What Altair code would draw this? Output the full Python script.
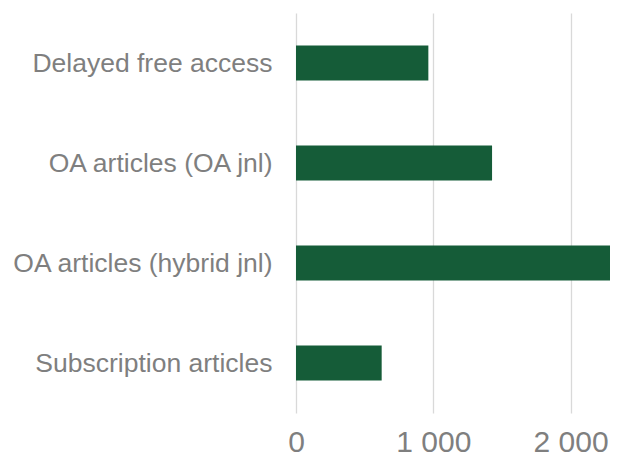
import altair as alt
import pandas as pd

categories = ["Delayed free access", "OA articles (OA jnl)", "OA articles (hybrid jnl)", "Subscription articles"]
values = [964, 1428, 2345, 624]
x_ticks = [0, 1000, 2000]

df = pd.DataFrame({"category": categories, "value": values})

chart = alt.Chart(df).mark_bar(color="#155C38", clip=True).encode(
    x=alt.X("value:Q",
            scale=alt.Scale(domain=[0, 2287], nice=False, zero=True),
            axis=alt.Axis(values=x_ticks, title=None, grid=True, gridColor="#D9D9D9", gridWidth=1.3,
                          domain=False, ticks=False, labelFontSize=30, labelColor="#7F7F7F",
                          labelFont="Liberation Sans", labelPadding=14, labelFlush=False,
                          labelExpr="replace(format(datum.value, ','), ',', ' ')")),
    y=alt.Y("category:N", sort=categories,
            scale=alt.Scale(paddingInner=0.65, paddingOuter=0.325),
            axis=alt.Axis(title=None, domain=False, ticks=False, labelFontSize=26.5,
                          labelColor="#7F7F7F", labelFont="Liberation Sans", labelPadding=24,
                          labelLimit=400, labelOffset=1)),
).properties(
    width=314, height=400,
    autosize=alt.AutoSizeParams(type="none"),
    padding={"left": 288, "top": 5, "right": 0, "bottom": 44},
).configure_view(stroke=None)

chart.save("out.html", embed_options={"renderer": "svg", "actions": False})
